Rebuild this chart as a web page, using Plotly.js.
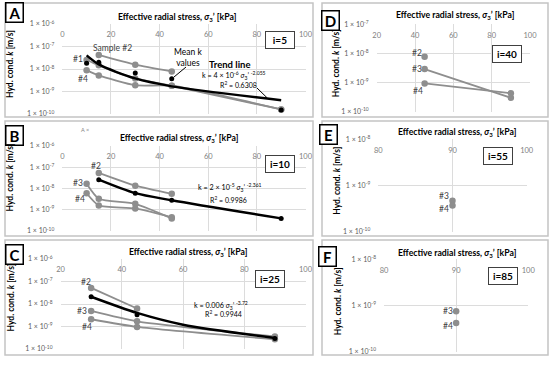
<!DOCTYPE html>
<html><head><meta charset="utf-8">
<script src="https://cdn.plot.ly/plotly-3.0.1.min.js"></script>
<style>html,body{margin:0;padding:0;background:#fff}#chart{width:550px;height:365px}</style>
</head><body><div id="chart"></div>
<script>
// ---------- DATA ----------
// Panel A, i=5
const aStress = [10, 15, 30, 45, 90];
const aS1 = [2.5e-8, 1.45e-8, 3.8e-9, 1.8e-9, 1.6e-10];
const aS2Stress = [15, 30, 45];
const aS2 = [4.2e-8, 1.55e-8, 7.8e-9];
const aS4 = [8.9e-9, 5.2e-9, 1.9e-9, 1.8e-9, 1.6e-10];
const aMean = [1.8e-8, 2.0e-8, 6.6e-9, 3.7e-9, 1.5e-10];
const aTrend = [4.0e-8, 1.6e-8, 3.8e-9, 1.7e-9, 4.1e-10];
// Panel B, i=10
const bS2Stress = [15, 30, 45];
const bS2 = [5.4e-8, 1.35e-8, 5.6e-9];
const bS34Stress = [10, 15, 30, 45];
const bS3 = [1.66e-8, 3.3e-9, 1.9e-9, 3.9e-10];
const bS4 = [6.0e-9, 1.6e-9, 1.15e-9, 4.4e-10];
const bMeanStress = [15, 30, 45, 90];
const bMean = [2.6e-8, 6.0e-9, 2.8e-9, 3.9e-10];
// Panel C, i=25
const cStress = [30, 45, 90];
const cS2Stress = [30, 45];
const cS2 = [5.2e-8, 6.3e-9];
const cS3 = [4.9e-9, 1.7e-9, 3.6e-10];
const cS4 = [2.1e-9, 9.6e-10, 2.7e-10];
const cMean = [2.1e-8, 3.3e-9, 2.9e-10];
const cTrendStress = [30, 45, 60, 90];
const cTrend = [2.1e-8, 4.0e-9, 1.2e-9, 3.1e-10];
// Panel D, i=40
const dStress = [45, 90];
const dS2Stress = [45];
const dS2 = [7.7e-9];
const dS3 = [2.9e-9, 3.0e-10];
const dS4 = [9.3e-10, 4.3e-10];
// Panel E, i=55
const eStress = [90];
const eS3 = [4.7e-10];
const eS4 = [3.7e-10];
// Panel F, i=85
const fStress = [90];
const fS3 = [7.5e-10];
const fS4 = [4.2e-10];
// Text
const panelLetters = ['A', 'B', 'C', 'D', 'E', 'F'];
const iLabels = ['i=5', 'i=10', 'i=25', 'i=40', 'i=55', 'i=85'];
const xTitle = '<b>Effective radial stress, <i>σ</i><sub>3</sub>\u2019 [kPa]</b>';
const yTitle = '<b>Hyd. cond. <i>k</i> [m/s]</b>';
const eqA = 'k = 4 × 10<sup>-6</sup> <i>σ</i><sub>3</sub>\u2019 <sup>-2.055</sup>';
const r2A = 'R<sup>2</sup> = 0.6308';
const eqB = 'k = 2 × 10<sup>-5</sup> <i>σ</i><sub>3</sub>\u2019 <sup>-2.361</sup>';
const r2B = 'R<sup>2</sup> = 0.9986';
const eqC = 'k = 0.006 <i>σ</i><sub>3</sub>\u2019 <sup>-3.72</sup>';
const r2C = 'R<sup>2</sup> = 0.9944';

// ---------- STYLE ----------
const FONT = 'Lato, "Liberation Sans", Arial, sans-serif';
const GRAY = '#8e8e8e';
const GRID = '#dcdcdc';
const W = 550, H = 365;
const px = x => x / W;
const py = y => 1 - y / H;

function xAxis(l, r, range, tv, anchor) {
  return {domain: [px(l), px(r)], range: range, side: 'top', anchor: anchor,
    tickvals: tv, ticks: '', ticklabelposition: 'inside', ticklabeloverflow: 'allow',
    ticklabelstandoff: 5, tickfont: {family: FONT, size: 7.5, color: '#808080'},
    showgrid: true, gridcolor: GRID, gridwidth: 1, zeroline: false, showline: false, fixedrange: true};
}
function yAxis(top, bot, lo, hi, anchor) {
  const tv = [], tt = [];
  for (let e = lo; e <= hi; e++) { tv.push(Math.pow(10, e)); tt.push('1 × 10<sup>' + e + '</sup>'); }
  return {domain: [py(bot), py(top)], type: 'log', range: [lo, hi], anchor: anchor,
    tickvals: tv, ticktext: tt, ticks: '', ticklabelstandoff: 7,
    tickfont: {family: FONT, size: 7, color: '#606060'},
    showgrid: true, gridcolor: GRID, gridwidth: 1, zeroline: false, showline: false, fixedrange: true};
}
function grayLine(x, y, xa, ya) {
  return {x: x, y: y, xaxis: xa, yaxis: ya, type: 'scatter', mode: x.length > 1 ? 'lines+markers' : 'markers',
    line: {color: GRAY, width: 1.8, shape: 'spline', smoothing: 0.6},
    marker: {color: GRAY, size: 6.5}, hoverinfo: 'skip'};
}
function blackMarkers(x, y, xa, ya) {
  return {x: x, y: y, xaxis: xa, yaxis: ya, type: 'scatter', mode: 'markers',
    marker: {color: '#000', size: 5}, hoverinfo: 'skip'};
}
function blackLine(x, y, xa, ya, withMarkers) {
  return {x: x, y: y, xaxis: xa, yaxis: ya, type: 'scatter', mode: withMarkers ? 'lines+markers' : 'lines',
    line: {color: '#000', width: 2.4, shape: 'spline', smoothing: 0.8},
    marker: {color: '#000', size: 5}, hoverinfo: 'skip'};
}

const traces = [
  grayLine(aStress, aS1, 'x', 'y'), grayLine(aS2Stress, aS2, 'x', 'y'), grayLine(aStress, aS4, 'x', 'y'),
  blackLine(aStress, aTrend, 'x', 'y', false), blackMarkers(aStress, aMean, 'x', 'y'),
  grayLine(bS2Stress, bS2, 'x2', 'y2'), grayLine(bS34Stress, bS3, 'x2', 'y2'), grayLine(bS34Stress, bS4, 'x2', 'y2'),
  blackLine(bMeanStress, bMean, 'x2', 'y2', true),
  grayLine(cS2Stress, cS2, 'x3', 'y3'), grayLine(cStress, cS3, 'x3', 'y3'), grayLine(cStress, cS4, 'x3', 'y3'),
  blackLine(cTrendStress, cTrend, 'x3', 'y3', false), blackMarkers(cStress, cMean, 'x3', 'y3'),
  grayLine(dS2Stress, dS2, 'x4', 'y4'), grayLine(dStress, dS3, 'x4', 'y4'), grayLine(dStress, dS4, 'x4', 'y4'),
  grayLine(eStress, eS3, 'x5', 'y5'), grayLine(eStress, eS4, 'x5', 'y5'),
  grayLine(fStress, fS3, 'x6', 'y6'), grayLine(fStress, fS4, 'x6', 'y6')
];

const anns = [];
function txt(x, y, text, size, color, extra) {
  anns.push(Object.assign({xref: 'paper', yref: 'paper', x: px(x), y: py(y), text: text, showarrow: false,
    xanchor: 'center', yanchor: 'middle', font: {family: FONT, size: size, color: color}}, extra || {}));
}
// panel letters
const letterPos = [[14, 12.5], [14, 135.5], [14, 254.5], [330, 20], [328.5, 135], [327.5, 256]];
letterPos.forEach((p, i) => txt(p[0], p[1], '<b>' + panelLetters[i] + '</b>', 15, '#000',
  {bordercolor: '#000', borderwidth: 1.5, borderpad: 1, width: 14, height: 16, bgcolor: '#fff'}));
// i= boxes
const iPos = [[280, 40], [280, 163.7], [270, 279], [506.7, 54.2], [498.3, 155.8], [503.3, 275.8]];
iPos.forEach((p, i) => txt(p[0], p[1], '<b>' + iLabels[i] + '</b>', 10, '#000',
  {bordercolor: '#404040', borderwidth: 1, borderpad: 1, width: 26, height: 14, bgcolor: '#fff'}));
// x titles
[[177, 17.3], [179, 138.3], [188, 252.3], [455, 15], [457, 132.3], [457, 253.3]].forEach(p => txt(p[0], p[1], xTitle, 8.7, '#000'));
// y titles
[[10, 64], [10, 177.5], [10, 297.5], [336, 63.3], [336.7, 181], [338.3, 301]].forEach(p => txt(p[0], p[1], yTitle, 8.5, '#000', {textangle: -90}));
// sample labels
const LBL = '#404040';
txt(77.5, 59.3, '#1', 8.5, LBL); txt(83.3, 78.7, '#4', 8.5, LBL); txt(112.7, 48, 'Sample #2', 8.5, LBL);
txt(188, 57, 'Mean k<br>values', 8.5, '#000');
txt(230, 64.3, '<b>Trend line</b>', 9.5, '#000');
txt(234, 75.3, eqA, 7.2, '#000'); txt(238, 84.3, r2A, 7, '#000');
txt(95.8, 165.7, '#2', 8.5, LBL); txt(77.8, 183.3, '#3', 8.5, LBL); txt(80, 199.3, '#4', 8.5, LBL);
txt(85, 130, 'A ×', 5.5, '#808080');
txt(230, 187.3, eqB, 7.2, '#000'); txt(228, 199.3, r2B, 7, '#000');
txt(85.8, 281.7, '#2', 8.5, LBL); txt(82, 310.7, '#3', 8.5, LBL); txt(86.7, 327.3, '#4', 8.5, LBL);
txt(220.7, 305.7, eqC, 7.2, '#000'); txt(223.7, 313.3, r2C, 7, '#000');
txt(416.7, 53.3, '#2', 8.5, LBL); txt(416.7, 69, '#3', 8.5, LBL); txt(417.7, 90.7, '#4', 8.5, LBL);
txt(443.8, 196, '#3', 8.5, LBL); txt(443.8, 209.3, '#4', 8.5, LBL);
txt(447.7, 311, '#3', 8.5, LBL); txt(448, 325.7, '#4', 8.5, LBL);

const shapes = [];
function rect(x0, y0, x1, y1) {
  shapes.push({type: 'rect', xref: 'paper', yref: 'paper', x0: px(x0), x1: px(x1), y0: py(y1), y1: py(y0),
    line: {color: '#c4c4c4', width: 1.5}, layer: 'below'});
}
rect(5, 3, 313, 117); rect(5, 121, 313, 236); rect(5, 240, 313, 355);
rect(322, 3, 548, 117); rect(322, 121, 548, 236); rect(322, 240, 548, 355);
function seg(x0, y0, x1, y1) {
  shapes.push({type: 'line', xref: 'paper', yref: 'paper', x0: px(x0), x1: px(x1), y0: py(y0), y1: py(y1),
    line: {color: '#000', width: 1}});
}
seg(186, 67, 174, 77); seg(257, 88, 267.3, 98);

const layout = {
  width: W, height: H, margin: {l: 0, r: 0, t: 0, b: 0}, showlegend: false,
  paper_bgcolor: '#fff', plot_bgcolor: 'rgba(0,0,0,0)',
  xaxis: xAxis(62.3, 305.5, [0, 100], [0, 20, 40, 60, 80, 100], 'y'),
  yaxis: yAxis(24, 114, -10, -6, 'x'),
  xaxis2: xAxis(62.3, 305.5, [0, 100], [0, 20, 40, 60, 80, 100], 'y2'),
  yaxis2: yAxis(146, 231, -10, -6, 'x2'),
  xaxis3: xAxis(60.5, 305.5, [20, 100], [20, 40, 60, 80, 100], 'y3'),
  yaxis3: yAxis(259, 349, -10, -6, 'x3'),
  xaxis4: xAxis(376.7, 530, [20, 100], [20, 40, 60, 80, 100], 'y4'),
  yaxis4: yAxis(24.3, 111.7, -10, -7, 'x4'),
  xaxis5: xAxis(378.3, 526.7, [80, 100], [80, 90, 100], 'y5'),
  yaxis5: yAxis(139.3, 231.7, -10, -8, 'x5'),
  xaxis6: xAxis(384, 528.3, [80, 100], [80, 90, 100], 'y6'),
  yaxis6: yAxis(259.3, 351.7, -10, -8, 'x6'),
  annotations: anns, shapes: shapes
};
Plotly.newPlot('chart', traces, layout, {staticPlot: true, displayModeBar: false});
</script></body></html>
